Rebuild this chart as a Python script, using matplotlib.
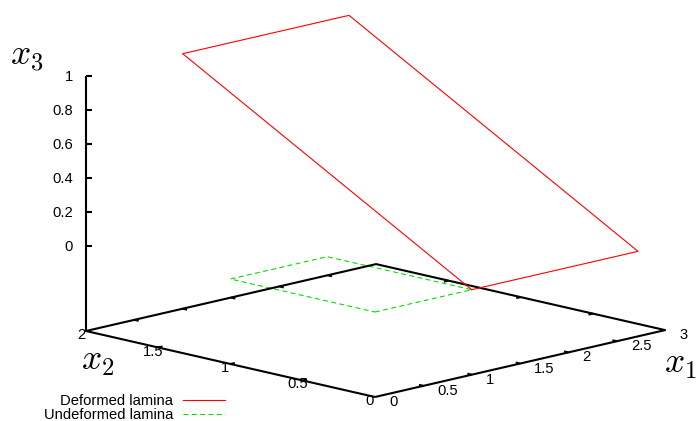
import numpy as np
import matplotlib
matplotlib.use("Agg")
import matplotlib.pyplot as plt

plt.rcParams['mathtext.fontset'] = 'cm'
plt.rcParams['lines.scale_dashes'] = False

# Daten
# verformte Lamelle (Eckpunkte, geschlossener Umriss)
def_x1 = [1.0, 2.72, 2.72, 1.0, 1.0]
def_x2 = [0.0, 0.0, 2.0, 2.0, 0.0]
def_x3 = [0.0, 0.0, 1.0, 1.0, 0.0]

# unverformte Lamelle
undef_x1 = [0.0, 1.0, 1.0, 0.0, 0.0]
undef_x2 = [0.0, 0.0, 1.0, 1.0, 0.0]
undef_x3 = [0.0, 0.0, 0.0, 0.0, 0.0]

# Achsenbereiche und Ticks
x1_range = (0.0, 3.0)
x2_range = (0.0, 2.0)
x3_range = (0.0, 1.0)
x3_base = -0.5  # ticslevel 0.5
x1_ticks = [0, 0.5, 1, 1.5, 2, 2.5, 3]
x1_ticklabels = ["0", "0.5", "1", "1.5", "2", "2.5", "3"]
x2_ticks = [0, 0.5, 1, 1.5, 2]
x2_ticklabels = ["0", "0.5", "1", "1.5", "2"]
x3_ticks = [0, 0.2, 0.4, 0.6, 0.8, 1]
x3_ticklabels = ["0", "0.2", "0.4", "0.6", "0.8", "1"]

# Projektion (orthographisch, Bildschirmkoordinaten)
origin = np.array([375.0, 397.0])
e1 = np.array([96.7, -22.3])
e2 = np.array([-144.5, -33.0])
e3 = np.array([0.0, -170.0])

def proj(x1, x2, x3):
    x1 = np.asarray(x1, dtype=float)
    x2 = np.asarray(x2, dtype=float)
    x3 = np.asarray(x3, dtype=float)
    px = origin[0] + e1[0] * x1 + e2[0] * x2 + e3[0] * (x3 - x3_base)
    py = origin[1] + e1[1] * x1 + e2[1] * x2 + e3[1] * (x3 - x3_base)
    return px, py

fig = plt.figure(figsize=(6.99, 4.21), dpi=100)
ax = fig.add_axes([0, 0, 1, 1])
ax.set_xlim(0, 699)
ax.set_ylim(421, 0)
ax.axis('off')

tick_font = dict(family='Liberation Sans', size=10.6)
border_kw = dict(color='black', lw=1.5, solid_capstyle='butt', zorder=3)

# Grundflaeche (Rahmen)
a, b = x1_range
c, d = x2_range
bx, by = proj([a, b, b, a, a], [c, c, d, d, c], [x3_base] * 5)
ax.plot(bx, by, **border_kw)
# z-Achse an der linken Ecke
zx, zy = proj([a, a], [d, d], [x3_base, x3_range[1]])
ax.plot(zx, zy, **border_kw)

# Ticks x1 (vorne und hinten gespiegelt)
tl = 0.03
for t, lab in zip(x1_ticks, x1_ticklabels):
    if a < t < b:
        px, py = proj([t, t], [c, c + tl], [x3_base, x3_base])
        ax.plot(px, py, **border_kw)
        px, py = proj([t, t], [d, d - tl], [x3_base, x3_base])
        ax.plot(px, py, **border_kw)
    px, py = proj(t, c, x3_base)
    ax.text(px + 14, py + 9, lab, ha='left', va='baseline', **tick_font)

# Ticks x2
tl1 = 0.045
for t, lab in zip(x2_ticks, x2_ticklabels):
    if c < t < d:
        px, py = proj([a, a + tl1], [t, t], [x3_base, x3_base])
        ax.plot(px, py, **border_kw)
        px, py = proj([b, b - tl1], [t, t], [x3_base, x3_base])
        ax.plot(px, py, **border_kw)
    px, py = proj(a, t, x3_base)
    ax.text(px - 5, py + 8, lab, ha='center', va='baseline', **tick_font)

# Ticks x3
for t, lab in zip(x3_ticks, x3_ticklabels):
    px, py = proj(a, d, t)
    ax.plot([px, px + 6], [py, py], **border_kw)
    ax.text(px - 13, py + 5, lab, ha='right', va='baseline', **tick_font)

# Achsenbeschriftungen
ax.text(10, 57, r'$x_3$', fontsize=25.5, ha='left', va='center')
ax.text(81, 361, r'$x_2$', fontsize=25.5, ha='left', va='center')
ax.text(664, 364, r'$x_1$', fontsize=25.5, ha='left', va='center')

# Lamellen
px, py = proj(def_x1, def_x2, def_x3)
ax.plot(px, py, color='#ff0000', lw=0.8, zorder=4)
px, py = proj(undef_x1, undef_x2, undef_x3)
ax.plot(px, py, color='#00e000', lw=0.8, dashes=(3.5, 2.5), zorder=2)

# Legende
ax.text(173, 405, 'Deformed lamina', ha='right', va='baseline', **tick_font)
ax.plot([183, 225], [400, 400], color='#ff0000', lw=0.8)
ax.text(173, 419, 'Undeformed lamina', ha='right', va='baseline', **tick_font)
ax.plot([183, 225], [414, 414], color='#00e000', lw=0.8, dashes=(3.5, 2.5))

fig.savefig('out.png', dpi=100)
